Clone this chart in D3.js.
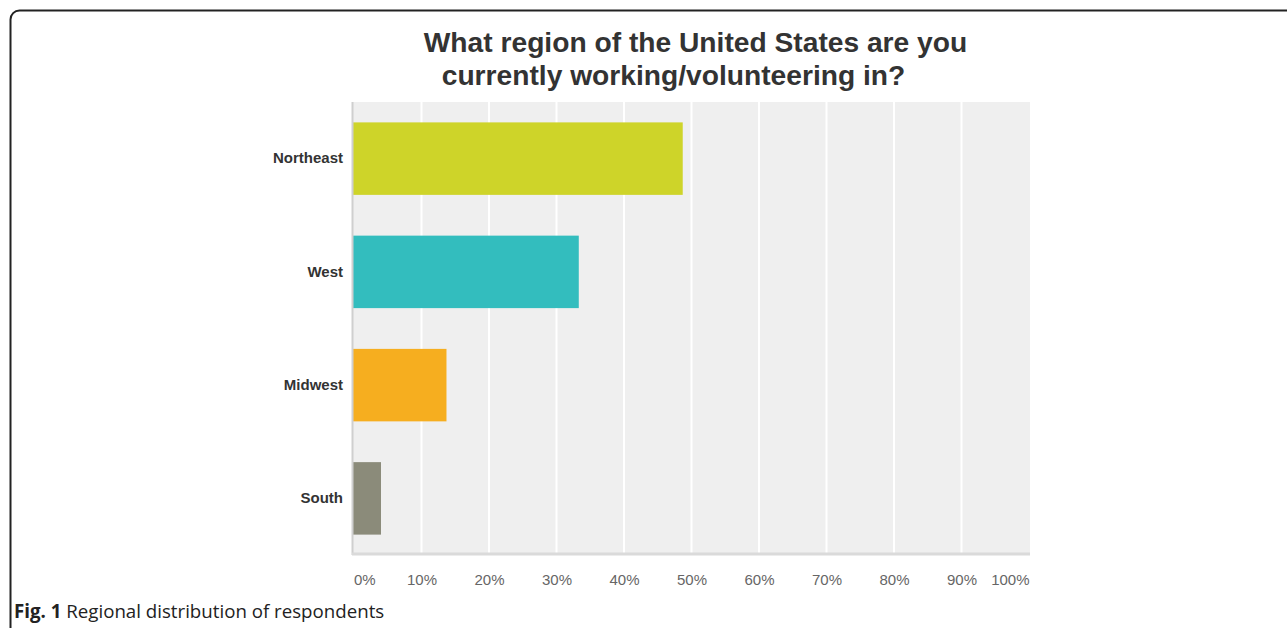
<!DOCTYPE html>
<html>
<head>
<meta charset="utf-8">
<script src="https://cdn.jsdelivr.net/npm/d3@7"></script>
<style>
  html, body { margin: 0; padding: 0; background: #fff; }
  svg { display: block; }
</style>
</head>
<body>
<svg id="chart" width="1287" height="628"></svg>
<script>
const categories = ["Northeast", "West", "Midwest", "South"];
const values = [48.7, 33.3, 13.7, 4.0];
const barColors = ["#ced429", "#33bdbe", "#f6ae1f", "#8b8b7a"];
const tickValues = [0, 10, 20, 30, 40, 50, 60, 70, 80, 90, 100];
const tickLabels = ["0%", "10%", "20%", "30%", "40%", "50%", "60%", "70%", "80%", "90%", "100%"];
const titleLines = ["What region of the United States are you", "currently working/volunteering in?"];
const captionBold = "Fig. 1";
const captionText = " Regional distribution of respondents";

const svg = d3.select("#chart");

// frame border (continues past the right and bottom edges)
svg.append("rect")
  .attr("x", 10.5).attr("y", 10.5)
  .attr("width", 1400).attr("height", 800)
  .attr("rx", 9).attr("ry", 9)
  .attr("fill", "none").attr("stroke", "#222").attr("stroke-width", 2);

const plot = { left: 353, right: 1030, top: 102, bottom: 555 };

const x = d3.scaleLinear().domain([0, 100]).range([354, 1029]);
const y = d3.scaleBand().domain(categories)
  .range([plot.top, plot.bottom]).paddingInner(0.36).paddingOuter(0.18);

// background
svg.append("rect")
  .attr("x", plot.left).attr("y", plot.top)
  .attr("width", plot.right - plot.left).attr("height", plot.bottom - plot.top)
  .attr("fill", "#efefef");

// gridlines
svg.append("g").selectAll("line")
  .data(tickValues.slice(1, -1))
  .join("line")
  .attr("x1", d => x(d)).attr("x2", d => x(d))
  .attr("y1", plot.top).attr("y2", plot.bottom)
  .attr("stroke", "#ffffff").attr("stroke-width", 2);

// bars
svg.append("g").selectAll("rect")
  .data(categories)
  .join("rect")
  .attr("x", x(0) - 1)
  .attr("y", d => y(d))
  .attr("width", (d, i) => x(values[i]) - x(0) + 1)
  .attr("height", y.bandwidth())
  .attr("fill", (d, i) => barColors[i]);

// left axis line
svg.append("line")
  .attr("x1", plot.left - 0.5).attr("x2", plot.left - 0.5)
  .attr("y1", plot.top).attr("y2", plot.bottom)
  .attr("stroke", "#cfcfcf").attr("stroke-width", 2);

// bottom axis line
svg.append("line")
  .attr("x1", plot.left - 1).attr("x2", plot.right)
  .attr("y1", plot.bottom - 1).attr("y2", plot.bottom - 1)
  .attr("stroke", "#dadada").attr("stroke-width", 3);

// y labels
const yAxis = d3.axisLeft(y).tickSize(0).tickPadding(10);
const yg = svg.append("g").attr("transform", `translate(${plot.left},0)`).call(yAxis);
yg.select(".domain").remove();
yg.selectAll("text")
  .attr("font-family", "Liberation Sans, Arial, sans-serif")
  .attr("font-size", 15).attr("font-weight", "bold").attr("fill", "#333");

// x tick labels
const xAxis = d3.axisBottom(x).tickValues(tickValues)
  .tickFormat((d, i) => tickLabels[i]).tickSize(0).tickPadding(0);
const xg = svg.append("g").attr("transform", `translate(0,580)`).call(xAxis);
xg.select(".domain").remove();
xg.selectAll("text")
  .attr("dy", "0.35em")
  .attr("font-family", "Liberation Sans, Arial, sans-serif")
  .attr("font-size", 15).attr("fill", "#666")
  .attr("text-anchor", (d, i) => i === 0 ? "start" : (i === tickValues.length - 1 ? "end" : "middle"))
  .attr("x", (d, i) => i === 0 ? -0.5 : (i === tickValues.length - 1 ? 0 : 0));

// title
svg.append("g").selectAll("text")
  .data(titleLines)
  .join("text")
  .attr("x", (d, i) => i === 0 ? 695.5 : 673.5)
  .attr("y", (d, i) => 52 + i * 33)
  .attr("text-anchor", "middle")
  .attr("font-family", "Liberation Sans, Arial, sans-serif")
  .attr("font-size", 28.2).attr("font-weight", "bold").attr("fill", "#333")
  .text(d => d);

// caption
const cap = svg.append("text")
  .attr("x", 14).attr("y", 618)
  .attr("font-family", "Open Sans, Noto Sans, sans-serif")
  .attr("font-size", 18.7).attr("fill", "#222");
cap.append("tspan").attr("font-weight", "bold").text(captionBold);
cap.append("tspan").text(captionText);
</script>
</body>
</html>
